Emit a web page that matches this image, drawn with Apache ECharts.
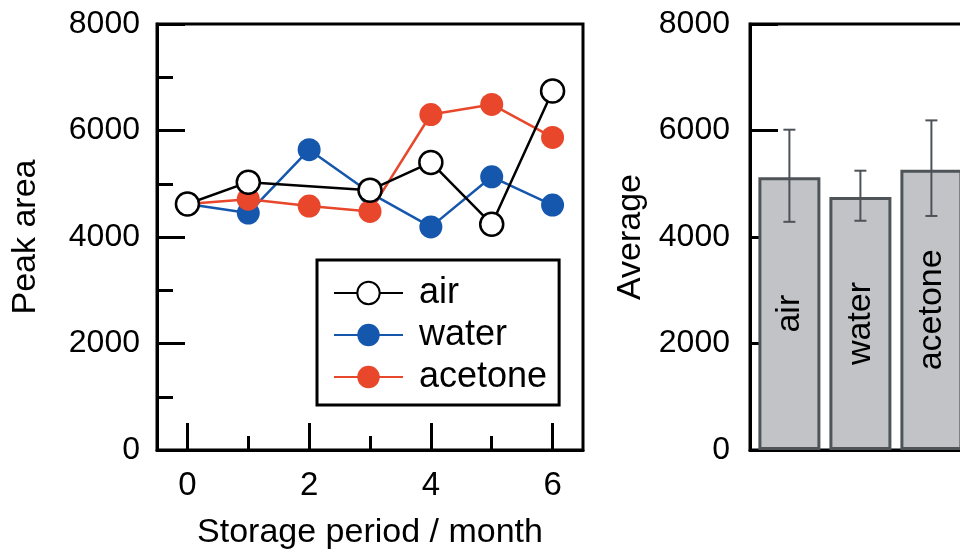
<!DOCTYPE html>
<html>
<head>
<meta charset="utf-8">
<script src="https://cdn.jsdelivr.net/npm/echarts@6/dist/echarts.min.js"></script>
<style>
  html, body { margin: 0; padding: 0; background: #fff; }
  #chart { width: 960px; height: 557px; }
</style>
</head>
<body>
<div id="chart"></div>
<script>
// Peak area over storage period (months), one line per storage condition
const months = ['0', '1', '2', '3', '4', '5', '6'];
const airArea = [4620, 5030, null, 4880, 5400, 4240, 6740];
const waterArea = [4620, 4450, 5640, 4830, 4190, 5130, 4600];
const acetoneArea = [4620, 4710, 4580, 4480, 6300, 6490, 5870];

// Averages per storage condition with error bar bounds
const conditions = ['air', 'water', 'acetone'];
const avgArea = [5120, 4750, 5265];
const errLow = [4285, 4305, 4395];
const errHigh = [6015, 5245, 6190];

const yTicks = [0, 2000, 4000, 6000, 8000];

const FONT = '"Liberation Sans", Arial, Helvetica, sans-serif';
const BLACK = '#000';
const axisLine = { show: true, onZero: false, lineStyle: { color: BLACK, width: 3 } };
const plainNumber = (v) => String(v);

const chart = echarts.init(document.getElementById('chart'), null, { renderer: 'canvas' });

const errStyle = { stroke: '#4d5258', lineWidth: 2 };

const option = {
  backgroundColor: '#fff',
  animation: false,
  textStyle: { fontFamily: FONT, color: BLACK },
  grid: [
    { left: 157, top: 24, width: 426, height: 426, show: true, borderColor: BLACK, borderWidth: 3, backgroundColor: 'transparent', outerBoundsMode: 'none' },
    { left: 750, top: 24, width: 300, height: 426, show: true, borderColor: BLACK, borderWidth: 3, backgroundColor: 'transparent', outerBoundsMode: 'none' }
  ],
  legend: {
    data: ['air', 'water', 'acetone'],
    orient: 'vertical',
    left: 317,
    top: 260,
    padding: [15, 12, 10, 16],
    backgroundColor: '#fff',
    borderColor: BLACK,
    borderWidth: 3,
    borderRadius: 0,
    itemWidth: 69,
    itemHeight: 28,
    itemGap: 6,
    selectedMode: false,
    textStyle: { fontFamily: FONT, fontSize: 36, color: BLACK, lineHeight: 36, padding: [0, 0, 0, 11] }
  },
  xAxis: [
    {
      gridIndex: 0, type: 'category', position: 'bottom', data: months, boundaryGap: true,
      axisLine: axisLine,
      axisTick: { show: true, alignWithLabel: true, inside: true, length: 27, lineStyle: { color: BLACK, width: 3 }, interval: (i) => i % 2 === 0 },
      axisLabel: { interval: (i) => i % 2 === 0, fontSize: 33, color: BLACK, margin: 19, fontFamily: FONT },
      splitLine: { show: false },
      name: 'Storage period / month', nameLocation: 'middle', nameGap: 66,
      nameTextStyle: { fontSize: 34, color: BLACK, fontFamily: FONT }
    },
    {
      gridIndex: 0, type: 'category', position: 'bottom', data: months, boundaryGap: true,
      axisLine: { show: false },
      axisTick: { show: true, alignWithLabel: true, inside: true, length: 14, lineStyle: { color: BLACK, width: 3 }, interval: (i) => i % 2 === 1 },
      axisLabel: { show: false },
      splitLine: { show: false }
    },
    {
      gridIndex: 1, type: 'value', position: 'bottom', min: -0.555, max: -0.555 + 300 / 71,
      axisLine: axisLine,
      axisTick: { show: false },
      axisLabel: { show: false },
      splitLine: { show: false }
    }
  ],
  yAxis: [
    {
      gridIndex: 0, type: 'value', min: yTicks[0], max: yTicks[yTicks.length - 1], interval: 2000,
      axisLine: axisLine,
      axisTick: { show: true, inside: true, length: 28, lineStyle: { color: BLACK, width: 3 } },
      minorTick: { show: true, splitNumber: 2, length: 16, lineStyle: { color: BLACK, width: 3 } },
      axisLabel: { fontSize: 32, color: BLACK, margin: 17, fontFamily: FONT, formatter: plainNumber },
      splitLine: { show: false },
      name: 'Peak area', nameLocation: 'middle', nameGap: 114,
      nameTextStyle: { fontSize: 34, color: BLACK, fontFamily: FONT }
    },
    {
      gridIndex: 1, type: 'value', min: yTicks[0], max: yTicks[yTicks.length - 1], interval: 2000,
      axisLine: axisLine,
      axisTick: { show: true, inside: true, length: 28, lineStyle: { color: BLACK, width: 3 } },
      axisLabel: { fontSize: 32, color: BLACK, margin: 20, fontFamily: FONT, formatter: plainNumber },
      splitLine: { show: false },
      name: 'Average', nameLocation: 'middle', nameGap: 102,
      nameTextStyle: { fontSize: 34, color: BLACK, fontFamily: FONT }
    }
  ],
  series: [
    {
      name: 'water', type: 'line', xAxisIndex: 0, yAxisIndex: 0, data: waterArea,
      symbol: 'circle', symbolSize: 23, z: 3,
      lineStyle: { color: '#1457ad', width: 2.5 },
      itemStyle: { color: '#1457ad', borderColor: '#1457ad', borderWidth: 0 }
    },
    {
      name: 'acetone', type: 'line', xAxisIndex: 0, yAxisIndex: 0, data: acetoneArea,
      symbol: 'circle', symbolSize: 23, z: 4,
      lineStyle: { color: '#e8472b', width: 2.5 },
      itemStyle: { color: '#e8472b', borderColor: '#e8472b', borderWidth: 0 }
    },
    {
      name: 'air', type: 'line', xAxisIndex: 0, yAxisIndex: 0, data: airArea, connectNulls: true,
      symbol: 'circle', symbolSize: 23, z: 5,
      lineStyle: { color: BLACK, width: 2.5 },
      itemStyle: { color: '#fff', borderColor: BLACK, borderWidth: 2.5 }
    },
    {
      name: 'average', type: 'bar', xAxisIndex: 2, yAxisIndex: 1,
      data: avgArea.map((v, i) => [i, v]),
      barWidth: 62,
      itemStyle: { color: '#c2c3c7', borderColor: '#4f5459', borderWidth: 3 },
      label: {
        show: true, position: 'inside', rotate: 90,
        formatter: (p) => conditions[p.dataIndex],
        fontSize: 34, color: BLACK, fontFamily: FONT
      },
      z: 4
    },
    {
      name: 'range', type: 'custom', xAxisIndex: 2, yAxisIndex: 1,
      data: conditions.map((_, i) => [i, errLow[i], errHigh[i]]),
      encode: { x: 0, y: [1, 2] },
      z: 6,
      renderItem: function (params, api) {
        const x = api.value(0);
        const lo = api.coord([x, api.value(1)]);
        const hi = api.coord([x, api.value(2)]);
        const half = 6;
        return {
          type: 'group',
          children: [
            { type: 'line', shape: { x1: lo[0], y1: lo[1], x2: hi[0], y2: hi[1] }, style: errStyle },
            { type: 'line', shape: { x1: hi[0] - half, y1: hi[1], x2: hi[0] + half, y2: hi[1] }, style: errStyle },
            { type: 'line', shape: { x1: lo[0] - half, y1: lo[1], x2: lo[0] + half, y2: lo[1] }, style: errStyle }
          ]
        };
      }
    }
  ]
};

chart.setOption(option);
</script>
</body>
</html>
